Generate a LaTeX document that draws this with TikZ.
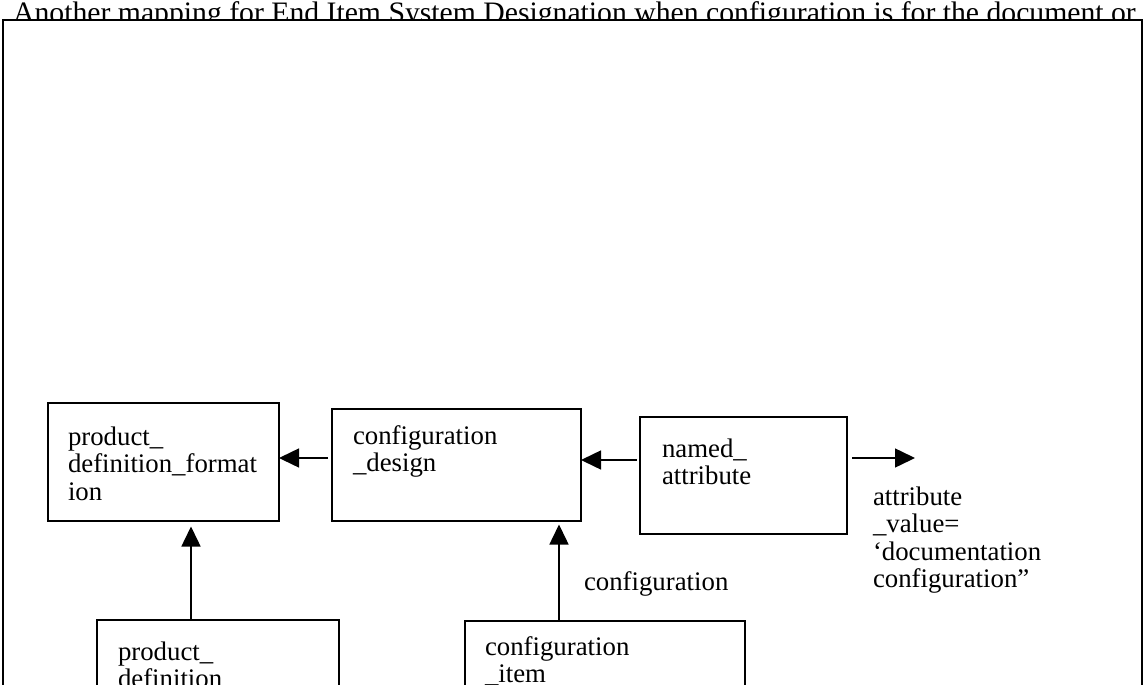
\documentclass[tikz,border=0pt]{standalone}
\usepackage{fontspec}
\setmainfont{Liberation Serif}
\usetikzlibrary{arrows.meta}
% stacked lines whose baseline is that of the first line
\newcommand{\boxlines}[1]{\begin{tabular}[t]{@{}l@{}}#1\end{tabular}}
\begin{document}
\begin{tikzpicture}[x=1pt,y=-1pt,
  lbl/.style={anchor=base west,inner sep=0pt,outer sep=0pt,
              font=\fontsize{26.8}{27.5}\selectfont},
  entity/.style={draw,line width=1.5pt,anchor=north west,inner sep=0pt,outer sep=0pt},
  arr/.style={line width=1.5pt,-{Triangle[length=20pt,width=19pt]}}]
\useasboundingbox (0,0) rectangle (1143,685);

% heading, partly hidden by the frame
\node[anchor=base west,inner sep=0pt,font=\fontsize{29.7}{32}\selectfont] (title) at (13,22.5)
  {Another mapping for End Item System Designation when configuration is for the document or};

% frame
\draw[line width=2pt,fill=white] (3,20) rectangle (1141.5,720);

% entities
\node[entity,minimum width=231pt,minimum height=118pt] (pdf)  at (48,403)  {};
\node[entity,minimum width=249pt,minimum height=112pt] (cd)   at (332,409) {};
\node[entity,minimum width=207pt,minimum height=117pt] (na)   at (640,417) {};
\node[entity,minimum width=242pt,minimum height=150pt] (pd)   at (97,620)  {};
\node[entity,minimum width=280pt,minimum height=150pt] (ci)   at (465,621) {};

\node[lbl] (pdft) at (68,445)  {\boxlines{product\_\\definition\_format\\ion}};
\node[lbl] (cdt)  at (353,444) {\boxlines{configuration\\\_design}};
\node[lbl] (nat)  at (662,457) {\boxlines{named\_\\attribute}};
\node[lbl] (pdt)  at (118,660) {\boxlines{product\_\\definition}};
\node[lbl] (cit)  at (485,655) {\boxlines{configuration\\\_item}};

% connectors
\coordinate (av) at (915,458);
\draw[arr,shorten <=4pt] ([yshift=7pt]cd.west) -- ([yshift=7pt]cd.west -| pdf.east);
\draw[arr,shorten <=3.3pt] ([yshift=15.5pt]na.west) -- ([yshift=15.5pt]na.west -| cd.east);
\draw[arr,shorten <=5pt] ([yshift=17.5pt]na.east) -- (av);
\draw[arr,shorten >=5.5pt] ([xshift=-27pt]pd.north) -- ([xshift=-27pt]pd.north |- pdf.south);
\draw[arr,shorten >=3.5pt] ([xshift=-46pt]ci.north) -- ([xshift=-46pt]ci.north |- cd.south);

% labels
\node[lbl] (cfg) at (584,590) {configuration};
\node[lbl] (avt) at (873,505) {\boxlines{attribute\\\_value=\\‘documentation\\configuration”}};
\end{tikzpicture}
\end{document}
